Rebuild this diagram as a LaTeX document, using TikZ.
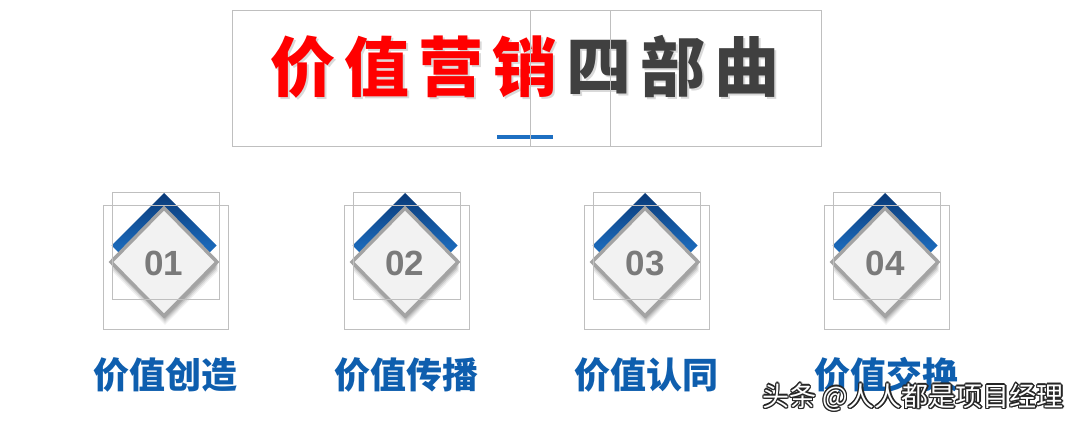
\documentclass[tikz,border=0pt]{standalone}
\usepackage{fontspec}
\setmainfont{Liberation Sans}
\newfontfamily\cjk{Noto Sans CJK SC}
\definecolor{frame}{HTML}{BFBFBF}
\definecolor{titlered}{HTML}{FF0000}
\definecolor{titlegray}{HTML}{404040}
\definecolor{labelblue}{HTML}{0E5EAE}
\definecolor{navy}{HTML}{0A3A78}
\definecolor{midblue}{HTML}{1D6FC2}
\definecolor{dborder}{HTML}{A3A3A3}
\definecolor{dfill}{HTML}{F2F2F2}
\definecolor{digit}{HTML}{7A7A7A}
\tikzset{
  framebox/.style={draw=frame, line width=1pt},
  titlechar/.style={font=\cjk\bfseries\fontsize{65}{65}\selectfont, inner sep=0pt},
  labeltext/.style={font=\cjk\bfseries\fontsize{36}{36}\selectfont, text=labelblue, inner sep=0pt},
  digittext/.style={font=\bfseries\fontsize{35}{35}\selectfont, text=digit, inner sep=0pt},
  wmtext/.style={font=\cjk\fontsize{27}{27}\selectfont, inner sep=0pt},
}
\begin{document}
\begin{tikzpicture}[x=1pt,y=-1pt]
\useasboundingbox (0,0) rectangle (1080,425);
\fill[white] (0,0) rectangle (1080,425);

% title characters (with soft shadow)
\foreach \c/\x/\col [count=\i] in {价/303/titlered,值/377/titlered,营/451/titlered,销/525/titlered,四/599/titlegray,部/673/titlegray,曲/747/titlegray}{
  \node[titlechar, text=black, opacity=0.15] (ts\i) at (\x+2,69) {\c};
  \node[titlechar, text=\col] (t\i) at (\x,67) {\c};
}
% title underline
\coordinate (ulA) at (497,137);
\coordinate (ulB) at (553,137);
\draw[midblue, line width=4pt] (ulA) -- (ulB);

% title frame and guide lines
\draw[framebox] (232,11) rectangle (821,147);
\coordinate (vA1) at (530,11); \coordinate (vA2) at (530,147);
\coordinate (vB1) at (610,11); \coordinate (vB2) at (610,147);
\draw[framebox] (vA1) -- (vA2);
\draw[framebox] (vB1) -- (vB2);

% four diamond items
\foreach \n/\x/\lab [count=\i] in {01/164/价值创造,02/405/价值传播,03/645/价值认同,04/885/价值交换}{
  % blue chevron (back diamond)
  \shade[top color=navy, bottom color=midblue, middle color=midblue!85!navy]
    (\x,193) -- (\x+52.5,245.5) -- (\x,298) -- (\x-52.5,245.5) -- cycle;
  % shadow of front diamond
  \foreach \o/\op in {9/0.06,7/0.08,5/0.1,3/0.12}{
    \fill[black, opacity=\op] (\x+1,208+\o) -- (\x+54,262+\o) -- (\x+1,316+\o) -- (\x-52,262+\o) -- cycle;
  }
  % front diamond
  \draw[dborder, fill=dfill, line width=3.5pt, line join=miter]
    (\x,208) -- (\x+53,262) -- (\x,316) -- (\x-53,262) -- cycle;
  \node[digittext] (d\i) at (\x,263) {\n};
  % guide frames
  \draw[framebox] (\x-52,193) rectangle (\x+55,299);
  \draw[framebox] (\x-61,206) rectangle (\x+64,329);
  % label
  \node[labeltext] (l\i) at (\x+1,375) {\lab};
}

% watermark
\foreach \dx/\dy [count=\k] in {-1.2/0,1.2/0,0/-1.2,0/1.2,-1/1,1/1,-1/-1,1/-1,0.5/1.8}{
  \node[wmtext, text=black!85] (wms\k) at (913+\dx,397+\dy) {头条 @人人都是项目经理};
}
\node[wmtext, text=white] (wm) at (913,397) {头条 @人人都是项目经理};
\end{tikzpicture}
\end{document}
